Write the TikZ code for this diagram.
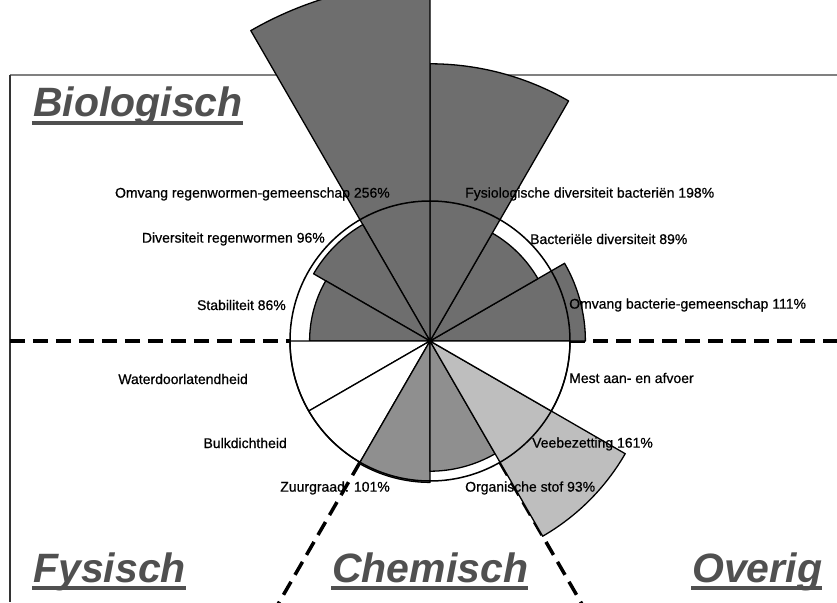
\documentclass[tikz,border=0pt]{standalone}
\usepackage{fontspec}
\setmainfont{Liberation Sans}
\newfontfamily\lblfont{Liberation Sans}[BoldFont={Liberation Sans}, BoldFeatures={FakeBold=0.7}]
\usetikzlibrary{positioning,calc}

\definecolor{biogray}{HTML}{6E6E6E}
\definecolor{chemgray}{HTML}{8F8F8F}
\definecolor{restgray}{HTML}{BEBEBE}
\definecolor{catgray}{HTML}{505050}

\begin{document}
\begin{tikzpicture}[x=1pt,y=1pt]

\tikzstyle{sector_bio} = [fill=biogray, draw=black, line width=1.3pt, line join=round]
\tikzstyle{sector_chem} = [fill=chemgray, draw=black, line width=1.3pt, line join=round]
\tikzstyle{sector_rest} = [fill=restgray, draw=black, line width=1.3pt, line join=round]
\tikzstyle{sector_none} = [fill=white, draw=black, line width=1.3pt, line join=round]
\tikzstyle{divider} = [line width=3.5pt, dash pattern=on 15pt off 8pt]
\tikzstyle{lbl} = [inner sep=0pt, font=\lblfont\bfseries\fontsize{14}{16}\selectfont]
\tikzstyle{cat} = [inner sep=0pt, anchor=base west, text=catgray, font=\fontsize{41}{48}\selectfont\bfseries\itshape]
\tikzstyle{catline} = [draw=catgray, line width=4.5pt]

\useasboundingbox (-430,-261) rectangle (407,341);
\clip (-430,-261) rectangle (407,341);

%------------------------------------------------------------
	\coordinate (c) at (0,0);
	\draw[gray, line width=1.5pt] (-420,266) -- (407,266);
	\draw[black!80, line width=1.5pt] (-420,266) -- (-420,-261);

%------------------------------------------------------------
	\draw[divider] (-420,0) -- (180:140);
	\draw[divider] (0:140) -- (407,0);
	\draw[divider] (240:140) -- (240:305);
	\draw[divider] (300:140) -- (300:305);

%------------------------------------------------------------
	\filldraw[sector_bio] (c) -- (0:155.4) arc[start angle=0, end angle=30, radius=155.4] -- cycle;
	\filldraw[sector_bio] (c) -- (30:124.6) arc[start angle=30, end angle=60, radius=124.6] -- cycle;
	\filldraw[sector_bio] (c) -- (60:277.2) arc[start angle=60, end angle=90, radius=277.2] -- cycle;
	\filldraw[sector_bio] (c) -- (90:358.4) arc[start angle=90, end angle=120, radius=358.4] -- cycle;
	\filldraw[sector_bio] (c) -- (120:134.4) arc[start angle=120, end angle=150, radius=134.4] -- cycle;
	\filldraw[sector_bio] (c) -- (150:120.4) arc[start angle=150, end angle=180, radius=120.4] -- cycle;
	\filldraw[sector_none] (c) -- (180:140) arc[start angle=180, end angle=210, radius=140] -- cycle;
	\filldraw[sector_none] (c) -- (210:140) arc[start angle=210, end angle=240, radius=140] -- cycle;
	\filldraw[sector_chem] (c) -- (240:141.4) arc[start angle=240, end angle=270, radius=141.4] -- cycle;
	\filldraw[sector_chem] (c) -- (270:130.2) arc[start angle=270, end angle=300, radius=130.2] -- cycle;
	\filldraw[sector_rest] (c) -- (300:225.4) arc[start angle=300, end angle=330, radius=225.4] -- cycle;
	\filldraw[sector_none] (c) -- (330:140) arc[start angle=330, end angle=360, radius=140] -- cycle;

	\draw[line width=1.5pt] (c) circle (140);

%------------------------------------------------------------
	\node[lbl, anchor=west] (fysio) at (35,147) {Fysiologische diversiteit bacteriën 198\%};
	\node[lbl, anchor=west] (bacdiv) at (100,102) {Bacteriële diversiteit 89\%};
	\node[lbl, anchor=west] (bacomv) at (139,36) {Omvang bacterie-gemeenschap 111\%};
	\node[lbl, anchor=west] (mest) at (139,-37) {Mest aan- en afvoer};
	\node[lbl, anchor=west] (vee) at (102,-103) {Veebezetting 161\%};
	\node[lbl, anchor=west] (orga) at (35,-147) {Organische stof 93\%};

	\node[lbl, anchor=east] (wormomv) at (-40,147) {Omvang regenwormen-gemeenschap 256\%};
	\node[lbl, anchor=east] (wormdiv) at (-105,102) {Diversiteit regenwormen 96\%};
	\node[lbl, anchor=east] (stab) at (-144,36) {Stabiliteit 86\%};
	\node[lbl, anchor=east] (water) at (-182,-38) {Waterdoorlatendheid};
	\node[lbl, anchor=east] (bulk) at (-143,-102) {Bulkdichtheid};
	\node[lbl, anchor=east] (zuur) at (-40,-147) {Zuurgraad: 101\%};

%------------------------------------------------------------
	\node[cat] (bio) at (-397,224) {Biologisch};
	\node[cat] (fysisch) at (-397,-241) {Fysisch};
	\node[cat] (chem) at (-98,-241) {Chemisch};
	\node[cat] (overig) at (262,-241) {Overig};

	\path[catline] ($(bio.base west)+(-1,-6)$) -- ($(bio.base east)+(0,-6)$);
	\path[catline] ($(fysisch.base west)+(-1,-6)$) -- ($(fysisch.base east)+(0,-6)$);
	\path[catline] ($(chem.base west)+(-1,-6)$) -- ($(chem.base east)+(0,-6)$);
	\path[catline] ($(overig.base west)+(-1,-6)$) -- ($(overig.base east)+(0,-6)$);

\end{tikzpicture}
\end{document}
